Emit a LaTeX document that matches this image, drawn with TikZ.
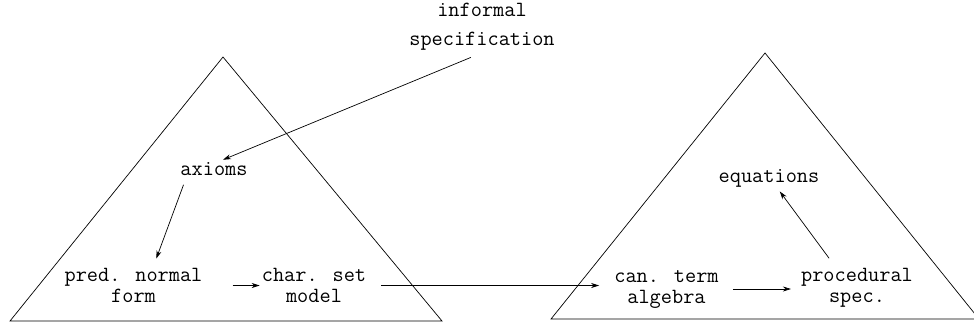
\documentclass[tikz,border=0pt]{standalone}
\usepackage{tikz}
\usetikzlibrary{arrows.meta, positioning}

\begin{document}
\begin{tikzpicture}[x=1pt, y=-1pt,
    txt/.style={font={\fontsize{21.7}{21}\selectfont\ttfamily}, inner sep=2pt, align=center},
    conn/.style={line width=0.7pt, -{Stealth[length=8pt,width=5pt]}},
    side/.style={line width=0.7pt, line join=miter}]
\useasboundingbox (0,0) rectangle (974,327);
\clip (0,0) rectangle (974,327);

% the two triangles
\draw[side] (223,57) -- (10,321) -- (442,321) -- cycle;
\draw[side] (765,53) -- (551,319) -- (979,319) -- cycle;

% texts
\node[txt] (spec) at (482,27) {informal\\[8pt]specification};
\node[txt, anchor=base] (axioms) at (214,175) {axioms};
\node[txt] (pred) at (133.5,285.5) {pred. normal\\form};
\node[txt] (char) at (314,285.5) {char. set\\model};
\node[txt] (can) at (666.5,289) {can. term\\algebra};
\node[txt] (proc) at (857,288) {procedural\\spec.};
\node[txt, anchor=base] (eqs) at (769,182) {equations};

% connectors
\draw[conn, shorten <=12pt] (spec.south) -- ([xshift=9pt]axioms.north);
\draw[conn, shorten <=8pt, shorten >=8pt] ([xshift=8pt]axioms.south west) -- ([xshift=20pt]pred.north);
\draw[conn, shorten <=28pt] (pred.east) -- (pred.east -| char.west);
\draw[conn, shorten <=13pt, shorten >=13pt] (char.east) -- (char.east -| can.west);
\draw[conn, shorten <=12pt, shorten >=8pt] (can.east) -- (can.east -| proc.west);
\draw[conn, shorten <=10pt, shorten >=3pt] ([xshift=-22pt]proc.north) -- ([xshift=9pt]eqs.south);
\end{tikzpicture}
\end{document}
